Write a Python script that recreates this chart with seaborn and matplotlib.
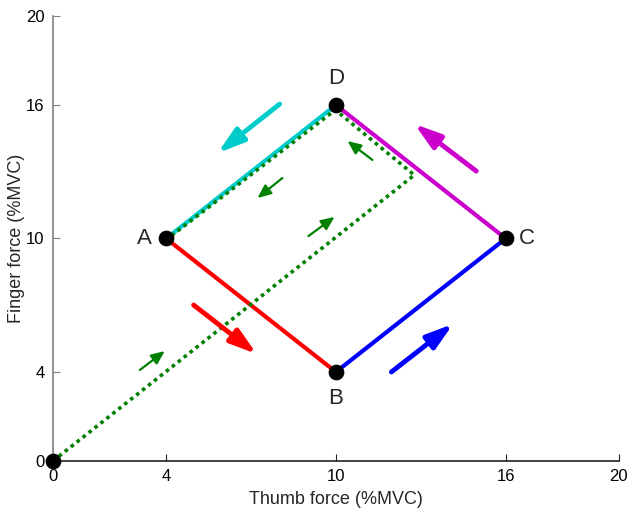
import matplotlib
matplotlib.use("Agg")
import matplotlib.pyplot as plt
import seaborn as sns
import pandas as pd

# target vertices
vertex_names = ["A", "B", "C", "D"]
vertex_x = [4, 10, 16, 10]
vertex_y = [10, 4, 10, 16]
edge_colors = ["#ff0000", "#0000ff", "#cc00cc", "#00cccc"]  # A-B, B-C, C-D, D-A

# measured force path (dotted green)
path_x = [0, 12.77, 9.98, 4.13]
path_y = [0, 12.85, 15.78, 10.07]

# big direction arrows: (x0, y0, x1, y1)
big_arrow_x0 = [4.97, 11.96, 14.96, 8.01]
big_arrow_y0 = [7.01, 4.00, 13.03, 16.04]
big_arrow_x1 = [7.20, 14.14, 12.77, 5.82]
big_arrow_y1 = [4.81, 6.16, 15.15, 13.84]

# small green arrows along the path
small_arrow_x0 = [3.07, 9.03, 11.29, 8.11]
small_arrow_y0 = [4.09, 10.11, 13.53, 12.72]
small_arrow_x1 = [3.95, 9.95, 10.41, 7.23]
small_arrow_y1 = [4.94, 10.97, 14.38, 11.82]

tick_vals = [0, 4, 10, 16, 20]

sns.set_style("white")
plt.rcParams["font.family"] = ["Liberation Sans", "DejaVu Sans"]

fig = plt.figure(figsize=(6.27, 5.13), dpi=100)
ax = fig.add_axes([0.0845, 0.1014, 0.9025, 0.8674])

# square edges
for i in range(4):
    j = (i + 1) % 4
    seg = pd.DataFrame({"x": [vertex_x[i], vertex_x[j]], "y": [vertex_y[i], vertex_y[j]]})
    sns.lineplot(data=seg, x="x", y="y", sort=False, color=edge_colors[i], lw=3, ax=ax)

# dotted force path
path = pd.DataFrame({"x": path_x, "y": path_y})
sns.lineplot(data=path, x="x", y="y", sort=False, color="#008000", lw=2.6, ax=ax)
ax.lines[-1].set_linestyle((0, (1, 1.1)))
ax.lines[-1].set_dash_capstyle("butt")

# vertex dots
dots = pd.DataFrame({"x": [0] + vertex_x, "y": [0] + vertex_y})
sns.scatterplot(data=dots, x="x", y="y", color="black", s=110, edgecolor="black",
                zorder=5, clip_on=False, ax=ax)

# vertex labels
offsets = {"A": (-0.5, 0, "right", "center"), "B": (0, -0.7, "center", "top"),
           "C": (0.45, 0, "left", "center"), "D": (0, 0.7, "center", "bottom")}
for name, x, y in zip(vertex_names, vertex_x, vertex_y):
    dx, dy, ha, va = offsets[name]
    ax.text(x + dx, y + dy, name, ha=ha, va=va, fontsize=16)

# big arrows
for k in range(4):
    ax.annotate("", xy=(big_arrow_x1[k], big_arrow_y1[k]), xytext=(big_arrow_x0[k], big_arrow_y0[k]),
                arrowprops=dict(arrowstyle="-|>,head_length=1.6,head_width=0.5",
                                color=edge_colors[k], lw=3.5, shrinkA=0, shrinkB=0))

# small arrows
for k in range(4):
    ax.annotate("", xy=(small_arrow_x1[k], small_arrow_y1[k]), xytext=(small_arrow_x0[k], small_arrow_y0[k]),
                arrowprops=dict(arrowstyle="-|>,head_length=0.8,head_width=0.35",
                                color="#008000", lw=1.6, shrinkA=0, shrinkB=0))

ax.set_xlim(0, 20)
ax.set_ylim(0, 20)
ax.set_xticks(tick_vals)
ax.set_yticks(tick_vals)
ax.set_xlabel("Thumb force (%MVC)", fontsize=13, labelpad=5)
ax.set_ylabel("Finger force (%MVC)", fontsize=13, labelpad=1)
ax.tick_params(direction="in", length=5, width=0.8, labelsize=12, bottom=True, left=True, pad=6)
ax.tick_params(axis="x", colors="#222222")
ax.tick_params(axis="y", colors="#808080")
for s in ["top", "right"]:
    ax.spines[s].set_visible(False)
ax.spines["bottom"].set_color("#222222")
ax.spines["left"].set_color("#808080")
for s in ["bottom", "left"]:
    ax.spines[s].set_linewidth(1.2)
for lab in ax.get_xticklabels() + ax.get_yticklabels():
    lab.set_color("black")

fig.savefig("out.png", dpi=100)
